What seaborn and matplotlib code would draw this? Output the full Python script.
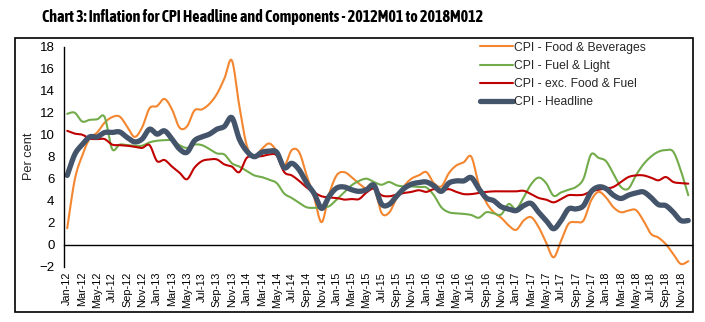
import numpy as np
import pandas as pd
import matplotlib
matplotlib.use("Agg")
import matplotlib.pyplot as plt
import seaborn as sns
from matplotlib.patches import Rectangle
from matplotlib import font_manager
import matplotlib.patheffects as pe

# ---------------- data ----------------
month_names = ["Jan", "Feb", "Mar", "Apr", "May", "Jun",
               "Jul", "Aug", "Sep", "Oct", "Nov", "Dec"]
years = ["12", "13", "14", "15", "16", "17", "18"]
months = [f"{m}-{y}" for y in years for m in month_names]
tick_labels = months[::2]

food = [1.5, 5.9, 8.1, 9.65, 10.2, 11.1, 11.6, 11.65, 10.75, 9.8, 10.65, 12.4,
        12.6, 13.25, 12.3, 10.65, 10.75, 12.2, 12.3, 12.8, 13.7, 15.1, 16.75, 12.6,
        9.0, 8.05, 8.7, 9.2, 8.5, 7.2, 8.6, 8.4, 6.3, 4.3, 2.05, 4.6,
        6.3, 6.6, 6.15, 5.55, 5.1, 5.2, 2.9, 2.9, 4.2, 5.3, 6.0, 6.3,
        6.6, 5.6, 5.3, 6.5, 7.2, 7.5, 8.0, 5.5, 3.85, 2.95, 2.45, 1.75,
        1.35, 2.2, 2.5, 1.6, 0.2, -1.15, 0.35, 1.9, 2.05, 2.2, 4.0, 4.8,
        4.3, 3.4, 2.95, 3.1, 3.15, 2.2, 1.0, 0.65, 0.05, -0.85, -1.75, -1.5]

fuel = [11.9, 12.0, 11.2, 11.35, 11.4, 11.6, 8.7, 9.1, 9.05, 9.0, 9.0, 9.3,
        9.45, 9.5, 9.5, 9.05, 8.8, 9.1, 9.05, 8.7, 8.3, 8.2, 7.4, 7.1,
        6.7, 6.3, 6.15, 5.9, 5.6, 4.65, 4.25, 3.8, 3.4, 3.35, 3.4, 3.5,
        4.1, 4.75, 5.4, 5.8, 6.0, 5.7, 5.45, 5.7, 5.4, 5.3, 5.3, 5.25,
        5.2, 4.5, 3.4, 2.95, 2.85, 2.8, 2.7, 2.45, 2.95, 2.85, 2.75, 3.7,
        3.25, 4.3, 5.5, 6.1, 5.6, 4.45, 4.75, 5.0, 5.25, 6.0, 8.2, 7.9,
        7.6, 6.45, 5.25, 5.1, 6.3, 7.3, 8.0, 8.45, 8.6, 8.45, 6.75, 4.5]

core = [10.35, 10.1, 10.0, 9.65, 9.6, 9.6, 9.1, 9.05, 9.0, 8.9, 8.8, 9.05,
        7.6, 7.7, 7.1, 6.55, 5.95, 7.0, 7.6, 7.75, 7.75, 7.3, 7.1, 6.6,
        7.9, 8.0, 8.05, 8.2, 8.1, 6.6, 6.3, 5.8, 5.2, 4.75, 4.4, 4.3,
        4.25, 4.1, 4.15, 4.15, 4.75, 5.1, 4.5, 4.4, 4.55, 4.7, 4.8, 4.95,
        4.8, 5.05, 4.9, 5.05, 4.8, 4.6, 4.6, 4.7, 4.8, 4.85, 4.85, 4.85,
        4.85, 4.9, 4.6, 4.25, 4.1, 3.85, 4.15, 4.5, 4.5, 4.55, 4.85, 5.0,
        5.1, 5.25, 5.7, 6.15, 6.3, 6.3, 6.1, 5.85, 6.15, 5.7, 5.6, 5.55]

headline = [6.3, 8.2, 9.1, 9.8, 9.8, 10.2, 10.2, 10.25, 9.75, 9.35, 9.6, 10.5,
            10.05, 10.35, 9.6, 8.7, 8.4, 9.45, 9.8, 10.05, 10.5, 10.75, 11.55, 9.6,
            8.5, 8.0, 8.4, 8.5, 8.4, 7.0, 7.4, 6.8, 5.6, 4.65, 3.3, 4.4,
            5.15, 5.25, 5.0, 4.85, 5.0, 5.4, 3.7, 3.65, 4.4, 5.1, 5.5, 5.65,
            5.7, 5.35, 4.85, 5.6, 5.8, 5.8, 6.1, 5.1, 4.25, 4.0, 3.45, 3.25,
            3.1, 3.55, 3.75, 2.95, 2.2, 1.45, 2.2, 3.25, 3.25, 3.55, 4.8, 5.25,
            5.1, 4.5, 4.2, 4.5, 4.7, 4.8, 4.3, 3.65, 3.55, 2.95, 2.2, 2.2]

series_names = ["CPI - Food & Beverages", "CPI - Fuel & Light",
                "CPI - exc. Food & Fuel", "CPI - Headline"]
series_values = [food, fuel, core, headline]
colors = ["#F4862F", "#72AC4A", "#C00000", "#44546A"]
widths = [1.5, 1.5, 1.5, 3.8]

title_text = "Chart 3: Inflation for CPI Headline and Components - 2012M01 to 2018M012"


def smooth(vals, n=16):
    """Catmull-Rom smoothing (like spreadsheet 'smoothed line')."""
    y = np.asarray(vals, dtype=float)
    x = np.arange(len(y), dtype=float)
    xs, ys = [], []
    N = len(y)
    for i in range(N - 1):
        i0, i3 = max(i - 1, 0), min(i + 2, N - 1)
        for arr, out in ((x, xs), (y, ys)):
            p0, p1, p2, p3 = arr[i0], arr[i], arr[i + 1], arr[i3]
            t = np.linspace(0, 1, n, endpoint=False)
            out.extend(0.5 * ((2 * p1) + (-p0 + p2) * t
                              + (2 * p0 - 5 * p1 + 4 * p2 - p3) * t ** 2
                              + (-p0 + 3 * p1 - 3 * p2 + p3) * t ** 3))
    xs.append(x[-1]); ys.append(y[-1])
    return np.array(xs), np.array(ys)


frames = []
for name, vals in zip(series_names, series_values):
    xs, ys = smooth(vals)
    frames.append(pd.DataFrame({"x": xs, "value": ys, "series": name}))
df = pd.concat(frames, ignore_index=True)

# ---------------- style ----------------
sns.set_style("white")
plt.rcParams["font.family"] = ["Liberation Sans", "DejaVu Sans"]


def _wt(w):
    if isinstance(w, (int, float)):
        return w
    return {"bold": 700, "heavy": 800, "black": 900, "semibold": 600,
            "demibold": 600}.get(str(w).lower(), 400)


W, H = 705, 322
fig = plt.figure(figsize=(W / 100, H / 100), dpi=100)
ax = fig.add_axes([63.5 / W, 1 - 266.7 / H, (692 - 63.5) / W, (266.7 - 46.7) / H])

for name, c, lw in zip(series_names, colors, widths):
    sns.lineplot(data=df[df["series"] == name], x="x", y="value", ax=ax,
                 color=c, linewidth=lw, label=name, sort=False,
                 estimator=None, solid_capstyle="round")

ax.set_xlim(-0.5, len(months) - 0.5)
ax.set_ylim(-2, 18)
ax.set_yticks(np.arange(-2, 19, 2))

for s in ["top", "right"]:
    ax.spines[s].set_visible(False)
ax.spines["left"].set_color("black")
ax.spines["left"].set_linewidth(1.0)
ax.spines["bottom"].set_color("black")
ax.spines["bottom"].set_linewidth(1.0)
ax.spines["bottom"].set_position(("data", 0))

ax.set_xticks(np.arange(0, len(months), 2))
ax.set_xticklabels(tick_labels, rotation=90, fontsize=7.8)
ax.set_xticks(np.arange(1.5, len(months), 2), minor=True)
ax.tick_params(axis="x", which="major", length=0, pad=19.5, colors="black")
ax.tick_params(axis="x", which="minor", length=3.5, width=1.0,
               direction="out", color="black")
ax.tick_params(axis="y", which="major", length=3.5, width=1.0,
               direction="out", labelsize=9.5, pad=3, colors="black")

ax.set_xlabel("")
ax.set_ylabel("Per cent", fontsize=9.2)
ax.yaxis.set_label_coords((35 - 63.5) / (692 - 63.5), 0.5)

leg = ax.legend(loc="upper left", bbox_to_anchor=(480 / W, 1 - 41.5 / H),
                bbox_transform=fig.transFigure, frameon=False,
                fontsize=8.7, handlelength=2.75, handletextpad=0.1,
                labelspacing=0.52, borderpad=0, borderaxespad=0)

fig.patches.append(Rectangle((15 / W, 1 - 312 / H), (693 - 15) / W,
                             (312 - 38) / H, transform=fig.transFigure,
                             fill=False, ec="black", lw=1.2))

# ---- title: find a narrow sans face whose 11.5pt rendering fits ~441 px ----
fig.canvas.draw()
renderer = fig.canvas.get_renderer()
cands = []
for f in font_manager.fontManager.ttflist:
    nm = f.name.lower()
    if (("narrow" in nm or "condensed" in nm) and "mono" not in nm
            and "serif" not in nm and f.style == "normal"):
        cands.append(f)
cands.sort(key=lambda f: (_wt(f.weight) < 600, abs(_wt(f.weight) - 700)))

TARGET = 441
chosen = None
for f in cands:
    fp = font_manager.FontProperties(fname=f.fname, size=11.5)
    t = fig.text(0, 0, title_text, fontproperties=fp)
    w = t.get_window_extent(renderer).width
    t.remove()
    if 380 <= w <= 480:
        chosen = (fp, _wt(f.weight) < 600, w)
        break

if chosen is None:
    fp = font_manager.FontProperties(family=["Liberation Sans", "DejaVu Sans"],
                                     weight="bold", size=11.5)
    fake_bold = False
else:
    fp, fake_bold, _ = chosen

title = fig.text(263 / W, 1 - 17 / H, title_text, ha="center", va="center",
                 fontproperties=fp, color="black")
if fake_bold:
    title.set_path_effects([pe.withStroke(linewidth=0.75, foreground="black")])
w = title.get_window_extent(renderer).width
title.set_fontsize(11.5 * TARGET / w)

fig.savefig("out.png", dpi=100)
